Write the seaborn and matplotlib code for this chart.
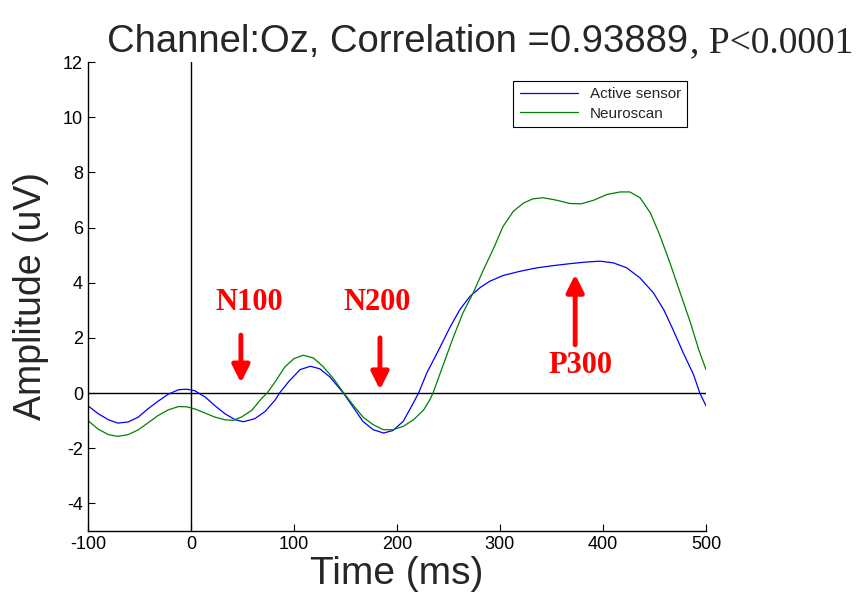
import numpy as np
import pandas as pd
import matplotlib
matplotlib.use("Agg")
import matplotlib.pyplot as plt
import seaborn as sns

# ── data ─────────────────────────────────────────────────────────────────────
active_t = [-100, -90, -80, -71, -61, -51, -42, -32, -22, -12, -4, 4, 14, 23,
            33, 43, 51, 62, 72, 82, 86, 95, 106, 116, 125, 135, 148, 158, 167,
            177, 187, 196, 206, 214, 221, 229, 239, 252, 261, 271, 281, 290,
            303, 319, 336, 352, 368, 384, 397, 410, 423, 436, 449, 459, 468,
            478, 488, 494, 500]
active_v = [-0.46, -0.75, -0.97, -1.09, -1.05, -0.87, -0.58, -0.30, -0.04,
            0.12, 0.14, 0.08, -0.15, -0.45, -0.75, -0.97, -1.04, -0.93, -0.67,
            -0.24, 0.0, 0.42, 0.85, 0.97, 0.88, 0.58, 0.0, -0.54, -1.03, -1.33,
            -1.45, -1.36, -1.03, -0.49, 0.0, 0.73, 1.45, 2.42, 3.02, 3.51,
            3.83, 4.05, 4.26, 4.41, 4.54, 4.62, 4.69, 4.75, 4.78, 4.72, 4.54,
            4.17, 3.63, 3.02, 2.30, 1.45, 0.66, 0.0, -0.46]

neuro_t = [-100, -90, -80, -71, -61, -51, -42, -32, -22, -12, -4, 4, 14, 23,
           33, 41, 49, 59, 69, 74, 82, 91, 100, 109, 119, 128, 138, 148, 158,
           167, 177, 187, 196, 206, 216, 226, 232, 235, 245, 255, 264, 274,
           284, 294, 303, 313, 323, 332, 342, 355, 368, 379, 391, 404, 417,
           426, 436, 446, 455, 465, 475, 485, 493, 500]
neuro_v = [-1.00, -1.31, -1.51, -1.57, -1.51, -1.33, -1.09, -0.82, -0.61,
           -0.49, -0.50, -0.58, -0.73, -0.87, -0.97, -0.99, -0.87, -0.63,
           -0.18, 0.0, 0.42, 0.94, 1.25, 1.37, 1.27, 0.97, 0.54, 0.02, -0.46,
           -0.87, -1.15, -1.33, -1.33, -1.21, -0.97, -0.61, -0.24, 0.0, 1.03,
           2.05, 2.90, 3.63, 4.47, 5.26, 6.04, 6.59, 6.89, 7.04, 7.08, 6.99,
           6.87, 6.86, 6.99, 7.20, 7.29, 7.29, 7.08, 6.53, 5.74, 4.72, 3.63,
           2.54, 1.57, 0.85]

series_names = ["Active sensor", "Neuroscan"]
series_colors = ["#0000FF", "#008000"]

x_ticks = [-100, 0, 100, 200, 300, 400, 500]
y_ticks = [-4, -2, 0, 2, 4, 6, 8, 10, 12]

# peak labels: text position, arrow x, arrow tail y, arrow head y
peak_labels = ["N100", "N200", "P300"]
peak_text_x = [57, 181, 378]
peak_text_y = [3.3, 3.3, 1.0]
peak_arrow_x = [48.5, 183.5, 373]
peak_arrow_from = [2.1, 2.0, 1.75]
peak_arrow_to = [0.37, 0.12, 4.3]

# ── style ────────────────────────────────────────────────────────────────────
sns.set_style("ticks")
SANS = ["Liberation Sans", "DejaVu Sans"]
SERIF = ["Liberation Serif", "DejaVu Serif"]
plt.rcParams["font.family"] = SANS
plt.rcParams["axes.unicode_minus"] = False
plt.rcParams["xtick.direction"] = "in"
plt.rcParams["ytick.direction"] = "in"

df = pd.concat([
    pd.DataFrame({"Time": active_t, "Amp": active_v, "Sensor": series_names[0]}),
    pd.DataFrame({"Time": neuro_t, "Amp": neuro_v, "Sensor": series_names[1]}),
], ignore_index=True)

fig = plt.figure(figsize=(8.62, 6.02), dpi=100)
ax = fig.add_axes([0.102, 0.118, 0.717, 0.779])

sns.lineplot(data=df, x="Time", y="Amp", hue="Sensor", palette=series_colors,
             linewidth=0.9, ax=ax, legend=True, estimator=None)

ax.axhline(0, color="black", lw=1.0, zorder=1)
ax.axvline(0, color="black", lw=1.0, zorder=1)

ax.set_xlim(-100, 500)
ax.set_ylim(-5, 12)
ax.set_xticks(x_ticks)
ax.set_yticks(y_ticks)
ax.tick_params(labelsize=13, length=5, width=0.8, colors="black")
for s in ["top", "right"]:
    ax.spines[s].set_visible(False)
for s in ["left", "bottom"]:
    ax.spines[s].set_linewidth(1.0)
    ax.spines[s].set_color("black")

ax.set_xlabel("Time (ms)", fontsize=28, labelpad=2)
ax.set_ylabel("Amplitude (uV)", fontsize=27, labelpad=10)

leg = ax.legend(loc="upper right", bbox_to_anchor=(0.982, 0.975), fontsize=11,
                frameon=True, fancybox=False, framealpha=1, edgecolor="black",
                handlelength=3.8, borderpad=0.4, labelspacing=0.35)
leg.get_frame().set_linewidth(0.8)

# ── peak annotations ─────────────────────────────────────────────────────────
for lab, tx, ty, axx, y0, y1 in zip(peak_labels, peak_text_x, peak_text_y,
                                     peak_arrow_x, peak_arrow_from, peak_arrow_to):
    ax.text(tx, ty, lab, color="red", fontsize=22, fontweight="bold",
            family=SERIF, ha="center", va="center")
    ax.annotate("", xy=(axx, y1), xytext=(axx, y0),
                arrowprops=dict(arrowstyle="-|>", color="red", lw=3.5,
                                mutation_scale=26, shrinkA=0, shrinkB=0))

# ── title in two fonts ───────────────────────────────────────────────────────
fig.text(0.798, 0.914, "Channel:Oz, Correlation =0.93889", fontsize=27.5,
         ha="right", va="baseline")
fig.text(0.800, 0.914, ", P<0.0001", fontsize=27, family=SERIF,
         ha="left", va="baseline")

fig.savefig("out.png", dpi=100)
